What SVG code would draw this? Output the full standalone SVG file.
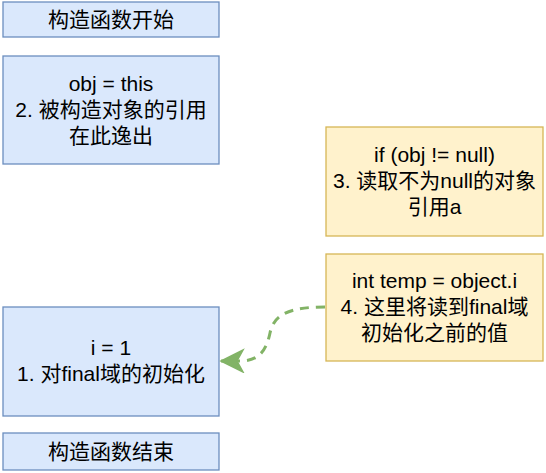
<svg xmlns="http://www.w3.org/2000/svg" width="546" height="473" viewBox="0 0 546 473">
<style>
.blue{fill:#dae8fc;stroke:#6c8ebf;stroke-width:1.3}
.yel{fill:#fff2cc;stroke:#d6b656;stroke-width:1.3}
text{font-family:"Liberation Sans","Noto Sans CJK SC",sans-serif;font-size:21px;fill:#000;text-anchor:middle}
.edge{fill:none;stroke:#82b366;stroke-width:3;stroke-dasharray:9 7}
</style>
<defs>
<marker id="arr" markerUnits="userSpaceOnUse" markerWidth="30" markerHeight="30" refX="24" refY="12" orient="auto">
<path d="M24,12 L2,1 L8,12 L2,23 Z" fill="#82b366" stroke="#82b366" stroke-width="1.5"/>
</marker>
</defs>
<rect width="546" height="473" fill="#fff"/>
<g id="n1"><rect class="blue" x="3" y="2" width="216" height="35"/><text x="111" y="27">构造函数开始</text></g>
<g id="n2"><rect class="blue" x="3" y="56" width="216" height="108"/><text x="111" y="91">obj = this</text><text x="111" y="117">2. 被构造对象的引用</text><text x="111" y="143">在此逸出</text></g>
<g id="n3"><rect class="yel" x="326" y="127" width="217" height="109"/><text x="434.5" y="162">if (obj != null)</text><text x="434.5" y="188">3. 读取不为null的对象</text><text x="434.5" y="214">引用a</text></g>
<g id="n4"><rect class="yel" x="326" y="254" width="217" height="107"/><text x="434.5" y="288">int temp = object.i</text><text x="434.5" y="314">4. 这里将读到final域</text><text x="434.5" y="340">初始化之前的值</text></g>
<g id="n5"><rect class="blue" x="3" y="307" width="216" height="109"/><text x="111" y="355">i = 1</text><text x="111" y="381">1. 对final域的初始化</text></g>
<g id="n6"><rect class="blue" x="3" y="433" width="216" height="37"/><text x="111" y="459">构造函数结束</text></g>
<g id="edges">
<path class="edge" d="M325,307 C290,307 274,314 270,333 C266,352 258,361 240,361 L221,361" marker-end="url(#arr)"/>
</g>
</svg>
